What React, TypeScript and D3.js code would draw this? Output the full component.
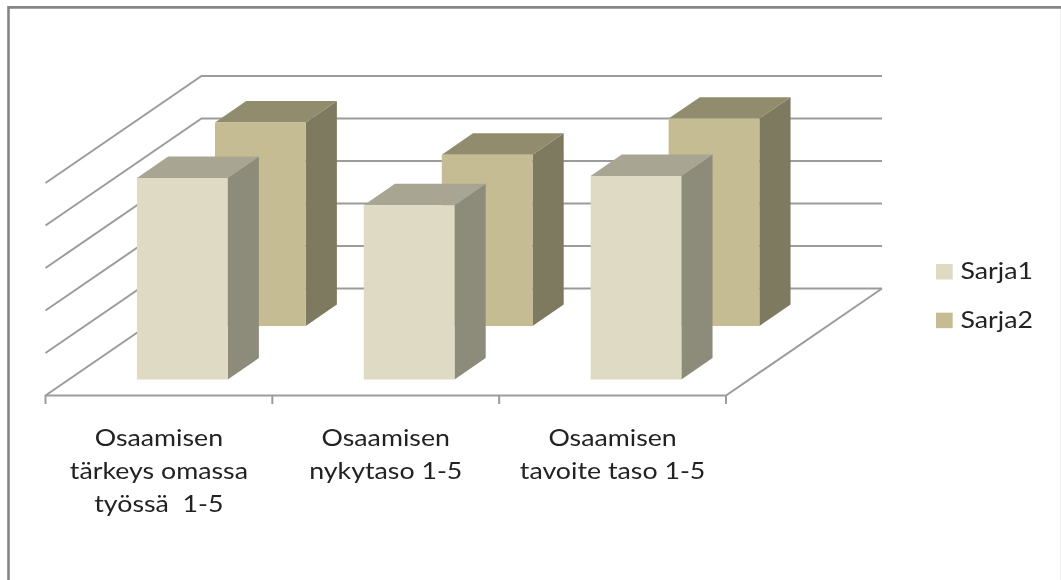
import React from "react";
import * as d3 from "d3";

const categories = ["Osaaminen1", "Osaaminen2", "Osaaminen3"];
const categoryLines = [
  ["Osaamisen", "tärkeys omassa", "työssä  1-5"],
  ["Osaamisen", "nykytaso 1-5"],
  ["Osaamisen", "tavoite taso 1-5"],
];
const seriesNames = ["Sarja1", "Sarja2"];
const sarja1 = [4.74, 4.1, 4.79];
const sarja2 = [4.79, 4.03, 4.88];
const gridValues = [0, 1, 2, 3, 4, 5];

const W = 1061;
const H = 580;
const FONT = "Lato, 'Open Sans', sans-serif";
const TEXT_STRETCH = 1.115;

const x = d3.scaleBand<string>().domain(categories).range([45.5, 726]).paddingInner(0.6).paddingOuter(0.3);
const xEdge = d3.scaleLinear().domain([0, 3]).range([45.5, 726]);
const y = d3.scaleLinear().domain([0, 5]).range([0, 212.5]);
const depthX = d3.scaleLinear().domain([0, 1]).range([0, 156]);
const depthY = d3.scaleLinear().domain([0, 1]).range([395.5, 288.5]);

const px = (xv: number, z: number) => xv + depthX(z);
const py = (v: number, z: number) => depthY(z) - y(v);
const line = d3.line();

const styles = [
  { front: "#dfdac4", top: "#a8a592", side: "#8d8b79", z0: 0.15 },
  { front: "#c5bc94", top: "#918c6e", side: "#7e7a5f", z0: 0.65 },
];
const barDepth = 0.2;
const GRID = "#9c9c9c";

function Bar({ cat, value, s }: { cat: string; value: number; s: (typeof styles)[number] }) {
  const x0 = x(cat)!;
  const x1 = x0 + x.bandwidth();
  const z0 = s.z0;
  const z1 = z0 + barDepth;
  const pts = (a: [number, number, number][]) => line(a.map(([p, v, z]) => [px(p, z), py(v, z)])) + "Z";
  return (
    <g>
      <path d={pts([[x1, 0, z0], [x1, 0, z1], [x1, value, z1], [x1, value, z0]])} fill={s.side} />
      <path d={pts([[x0, value, z0], [x1, value, z0], [x1, value, z1], [x0, value, z1]])} fill={s.top} />
      <path d={pts([[x0, 0, z0], [x1, 0, z0], [x1, value, z0], [x0, value, z0]])} fill={s.front} />
    </g>
  );
}

export default function App() {
  return (
    <svg
      width={W}
      height={H}
      viewBox={`0 0 ${W} ${H}`}
      style={{ position: "absolute", left: 0, top: 0, background: "#fff" }}
    >
      <defs>
        <filter id="soft" x="0" y="0" width="100%" height="100%" filterUnits="userSpaceOnUse" primitiveUnits="userSpaceOnUse">
          <feGaussianBlur stdDeviation="0.45" />
        </filter>
      </defs>
      <g filter="url(#soft)">
        <line x1={1060.5} x2={1060.5} y1={8} y2={H} stroke="#eeeeee" strokeWidth={1} />
        <path d={`M8.5,${H + 3}V7.4H${W + 3}`} fill="none" stroke="#858585" strokeWidth={2.6} />

        {gridValues.map((v) => (
          <path
            key={v}
            d={line([
              [px(xEdge(0), 0), py(v, 0)],
              [px(xEdge(0), 1), py(v, 1)],
              [px(xEdge(3), 1), py(v, 1)],
            ])!}
            fill="none"
            stroke={GRID}
            strokeWidth={2}
          />
        ))}
        <path
          d={line([
            [px(xEdge(3), 1), py(0, 1)],
            [px(xEdge(3), 0), py(0, 0)],
            [px(xEdge(0), 0), py(0, 0)],
          ])!}
          fill="none"
          stroke={GRID}
          strokeWidth={2}
        />
        {d3.range(0, 4).map((i) => (
          <line key={i} x1={xEdge(i)} x2={xEdge(i)} y1={395} y2={404} stroke={GRID} strokeWidth={2} />
        ))}

        {categories.map((c, i) => (
          <Bar key={c + "b"} cat={c} value={sarja2[i]} s={styles[1]} />
        ))}
        {categories.map((c, i) => (
          <Bar key={c + "a"} cat={c} value={sarja1[i]} s={styles[0]} />
        ))}

        {categories.map((c, i) => (
          <g key={c} transform={`translate(${(xEdge(i) + xEdge(i + 1)) / 2},0) scale(${TEXT_STRETCH},1)`}>
            <text textAnchor="middle" fontFamily={FONT} fontSize={24} fill="#222222" style={{ whiteSpace: "pre" }}>
              {categoryLines[i].map((l, j) => (
                <tspan key={j} x={0} y={446 + j * 33}>
                  {l}
                </tspan>
              ))}
            </text>
          </g>
        ))}

        {seriesNames.map((n, i) => (
          <g key={n}>
            <rect x={936} y={264 + i * 48.7} width={16.7} height={15.5} fill={styles[i].front} />
            <g transform={`translate(960.5,${279 + i * 48.7}) scale(${TEXT_STRETCH},1)`}>
              <text x={0} y={0} fontFamily={FONT} fontSize={24} fill="#222222">
                {n}
              </text>
            </g>
          </g>
        ))}
      </g>
    </svg>
  );
}
